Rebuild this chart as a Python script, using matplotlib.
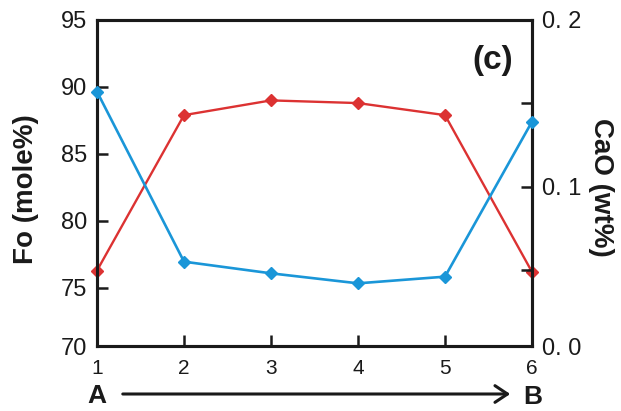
import matplotlib
matplotlib.use("Agg")
import matplotlib.pyplot as plt

# Data
points = [1, 2, 3, 4, 5, 6]
fo_values = [76.3, 87.9, 89.0, 88.8, 87.9, 76.2]          # red, left axis (Fo mole%)
cao_values = [0.157, 0.055, 0.048, 0.042, 0.046, 0.139]  # blue, right axis (CaO wt%)
left_ticks = [75, 80, 85, 90, 95]
right_ticks = [0.05, 0.10, 0.15, 0.20]
right_labels = ["", "0. 1", "", "0. 2"]

plt.rcParams['font.family'] = ['Liberation Sans', 'DejaVu Sans']

fig = plt.figure(figsize=(6.21, 4.11), dpi=100)
ax = fig.add_axes([97/621, 1-346/411, (532-97)/621, (346-20)/411])
ax2 = ax.twinx()

red = '#dc3232'
blue = '#1a96d8'

ax.plot(points, fo_values, color=red, lw=1.7, marker='D', ms=6.5, mec=red, mfc=red, zorder=3, clip_on=False)
ax2.plot(points, cao_values, color=blue, lw=1.9, marker='D', ms=6.5, mec=blue, mfc=blue, zorder=3, clip_on=False)

ax.set_xlim(1, 6)
ax.set_ylim(70.67, 95)
ax2.set_ylim(0.0044, 0.2)

ax.set_xticks(points)
ax.set_xticklabels([str(p) for p in points], fontsize=15)
ax.set_yticks([70.67] + left_ticks)
ax.set_yticklabels(['70'] + [str(t) for t in left_ticks], fontsize=17)
ax2.set_yticks([0.0044] + right_ticks)
ax2.set_yticklabels(['0. 0'] + right_labels, fontsize=17)

for a in (ax, ax2):
    for s in a.spines.values():
        s.set_linewidth(2.2)
        s.set_color('#1a1a1a')
ax.tick_params(axis='both', direction='in', length=8, width=1.8, pad=7, colors='#1a1a1a')
ax.tick_params(axis='x', pad=9)
ax2.tick_params(axis='y', direction='in', length=8, width=1.8, pad=7, colors='#1a1a1a')
# hide tick marks at the ends
for t in ax.xaxis.get_major_ticks()[::5]:
    t.tick1line.set_visible(False)
for t in [ax.yaxis.get_major_ticks()[0], ax.yaxis.get_major_ticks()[-1]]:
    t.tick1line.set_visible(False)
for t in [ax2.yaxis.get_major_ticks()[0], ax2.yaxis.get_major_ticks()[-1]]:
    t.tick2line.set_visible(False)

fig.text(26/621, 1-189/411, 'Fo (mole%)', rotation=90, fontsize=20, fontweight='bold',
         ha='center', va='center', color='#1a1a1a')
fig.text(601/621, 1-187/411, 'CaO (wt%)', rotation=270, fontsize=20, fontweight='bold',
         ha='center', va='center', color='#1a1a1a')
fig.text(493/621, 1-61/411, '(c)', fontsize=24, fontweight='bold', ha='center', va='center', color='#1a1a1a')

fig.text(97/621, 1-396/411, 'A', fontsize=19, fontweight='bold', ha='center', va='center', color='#1a1a1a')
fig.text(533/621, 1-397/411, 'B', fontsize=19, fontweight='bold', ha='center', va='center', color='#1a1a1a')
fig.patches.append(matplotlib.patches.FancyArrowPatch(
    (120/621, 1-394/411), (513/621, 1-394/411), transform=fig.transFigure,
    arrowstyle='->,head_length=9,head_width=6', lw=2.2, color='#1a1a1a', mutation_scale=1))

fig.savefig('out.png', dpi=100)
